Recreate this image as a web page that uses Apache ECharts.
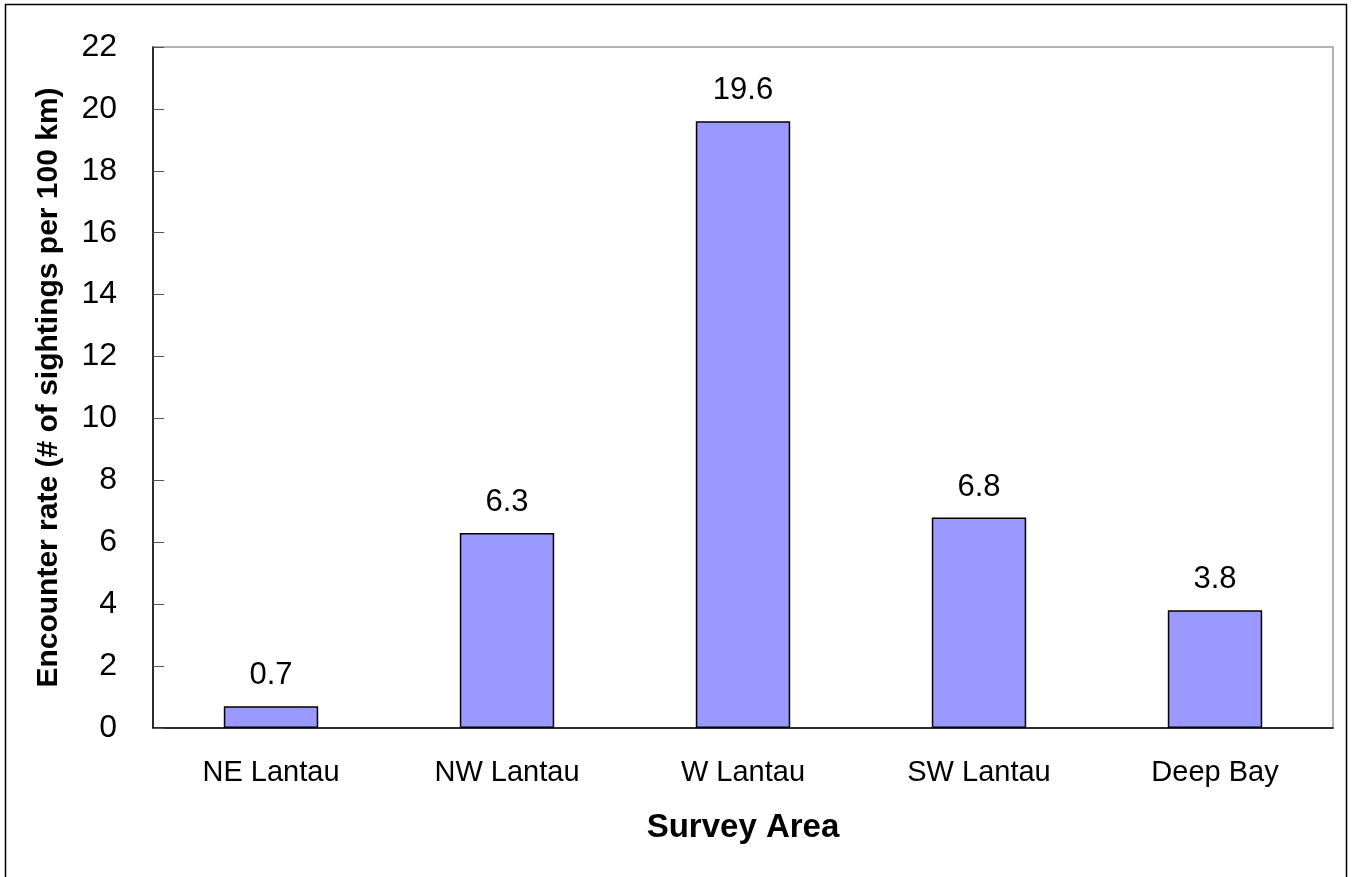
<!DOCTYPE html>
<html>
<head>
<meta charset="UTF-8">
<title>Encounter rate</title>
<script src="https://cdn.jsdelivr.net/npm/echarts@6/dist/echarts.min.js"></script>
<style>
  html, body { margin: 0; padding: 0; background: #fff; }
  #main { width: 1356px; height: 877px; }
</style>
</head>
<body>
<div id="main"></div>
<script>
var areas = ['NE Lantau', 'NW Lantau', 'W Lantau', 'SW Lantau', 'Deep Bay'];
var rates = [0.7, 6.3, 19.6, 6.8, 3.8];
var yMin = 0, yMax = 22, yStep = 2;

var chart = echarts.init(document.getElementById('main'));
var font = 'Liberation Sans, Arial, sans-serif';

chart.setOption({
  animation: false,
  textStyle: { fontFamily: font },
  // outer frame around the whole picture (bottom edge falls off the image)
  graphic: [{
    type: 'rect',
    shape: { x: 5.5, y: 4.5, width: 1341, height: 880 },
    style: { fill: 'none', stroke: '#000', lineWidth: 1.5 },
    silent: true
  }],
  grid: {
    left: 153, right: 23, top: 47, bottom: 149,
    show: true, borderColor: '#999', borderWidth: 1.5, backgroundColor: '#fff'
  },
  xAxis: {
    type: 'category',
    data: areas,
    name: 'Survey Area',
    nameLocation: 'middle',
    nameGap: 83,
    nameTextStyle: { fontSize: 33, fontWeight: 'bold', color: '#000', fontFamily: font, verticalAlign: 'top' },
    axisLine: { lineStyle: { color: '#000', width: 1.5 } },
    axisTick: { inside: true, length: 10, lineStyle: { color: '#555' } },
    axisLabel: { fontSize: 29, color: '#000', margin: 30, fontFamily: font },
    splitLine: { show: false }
  },
  yAxis: {
    type: 'value',
    min: yMin, max: yMax, interval: yStep,
    name: 'Encounter rate (# of sightings per 100 km)',
    nameLocation: 'middle',
    nameGap: 89,
    nameTextStyle: { fontSize: 30, fontWeight: 'bold', color: '#000', fontFamily: font },
    axisLine: { show: true, lineStyle: { color: '#000', width: 1.5 } },
    axisTick: { show: true, inside: true, length: 11, lineStyle: { color: '#555' } },
    axisLabel: { fontSize: 32, color: '#000', margin: 36, fontFamily: font },
    splitLine: { show: false }
  },
  series: [{
    type: 'bar',
    data: rates,
    barWidth: '40%',
    itemStyle: { color: '#9999ff', borderColor: '#000', borderWidth: 1.5 },
    label: {
      show: true, position: 'top', distance: 15,
      fontSize: 31, color: '#000', fontFamily: font,
      formatter: function (p) { return p.value.toFixed(1); }
    }
  }]
});
</script>
</body>
</html>
